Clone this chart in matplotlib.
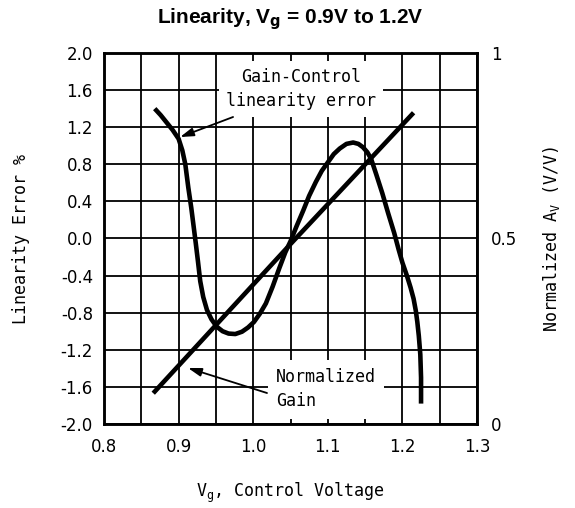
import matplotlib
matplotlib.use("Agg")
import matplotlib.pyplot as plt

# Data
vg_err = [0.868, 0.876, 0.884, 0.892, 0.900, 0.905, 0.909, 0.913, 0.917, 0.920,
          0.923, 0.926, 0.929, 0.933, 0.938, 0.944, 0.951, 0.959, 0.967, 0.976,
          0.985, 0.993, 1.001, 1.009, 1.017, 1.026, 1.035, 1.043, 1.050, 1.058,
          1.067, 1.075, 1.084, 1.092, 1.100, 1.108, 1.116, 1.125, 1.134, 1.141,
          1.147, 1.153, 1.158, 1.165, 1.173, 1.181, 1.189, 1.195, 1.200, 1.206,
          1.211, 1.215, 1.218, 1.220, 1.222, 1.224, 1.225, 1.225]
lin_err = [1.40, 1.33, 1.25, 1.17, 1.075, 0.95, 0.80, 0.55, 0.33, 0.14,
           -0.05, -0.25, -0.46, -0.63, -0.77, -0.87, -0.95, -1.00, -1.025, -1.03,
           -1.005, -0.96, -0.90, -0.81, -0.70, -0.52, -0.32, -0.15, -0.03, 0.13,
           0.30, 0.46, 0.61, 0.73, 0.82, 0.91, 0.97, 1.02, 1.035, 1.02,
           0.985, 0.93, 0.86, 0.69, 0.49, 0.27, 0.06, -0.12, -0.26, -0.40,
           -0.53, -0.65, -0.78, -0.90, -1.05, -1.25, -1.50, -1.78]

vg_gain = [0.866, 1.050, 1.215]
norm_gain = [0.083, 0.485, 0.839]

x_ticks = [0.8, 0.9, 1.0, 1.1, 1.2, 1.3]
x_tick_labels = ["0.8", "0.9", "1.0", "1.1", "1.2", "1.3"]
y_ticks = [-2.0, -1.6, -1.2, -0.8, -0.4, 0.0, 0.4, 0.8, 1.2, 1.6, 2.0]
y_tick_labels = ["-2.0", "-1.6", "-1.2", "-0.8", "-0.4", "0.0", "0.4", "0.8", "1.2", "1.6", "2.0"]
r_ticks = [0, 0.5, 1]
r_tick_labels = ["0", "0.5", "1"]

plt.rcParams['font.family'] = ['DejaVu Sans']
MONO = 'DejaVu Sans Mono'

fig = plt.figure(figsize=(5.75, 5.08), dpi=100)
ax = fig.add_axes([104/575, 1-424/508, (477-104)/575, (424-53)/508])
ax2 = ax.twinx()

ax.set_xlim(0.8, 1.3)
ax.set_ylim(-2.0, 2.0)
ax2.set_ylim(0, 1)

ax.set_xticks(x_ticks)
ax.set_xticklabels(x_tick_labels, fontsize=12)
ax.set_xticks([0.85, 0.95, 1.05, 1.15, 1.25], minor=True)
ax.set_yticks(y_ticks)
ax.set_yticklabels(y_tick_labels, fontsize=12)
ax.grid(True, which='both', color='black', linewidth=1.3)
ax.set_axisbelow(True)
ax.tick_params(which='both', length=0)
ax.tick_params(axis='y', pad=8)
ax.tick_params(axis='x', pad=10)

ax2.set_yticks(r_ticks)
ax2.set_yticklabels(r_tick_labels, fontsize=12)
ax2.tick_params(length=0, pad=10)

for a in (ax, ax2):
    for s in a.spines.values():
        s.set_linewidth(1.8)

ax.plot(vg_err, lin_err, color='black', linewidth=3.3, solid_capstyle='butt',
        solid_joinstyle='round', zorder=3)
ax2.plot(vg_gain, norm_gain, color='black', linewidth=3.3, solid_capstyle='butt',
         zorder=3)

ax.text(1.064, 1.612, "Gain-Control\nlinearity error", fontsize=12, family=MONO,
        ha='center', va='center', linespacing=1.45,
        bbox=dict(facecolor='white', edgecolor='none', pad=5), zorder=5)
ax.annotate("", xy=(0.902, 1.094), xytext=(0.973, 1.31),
            arrowprops=dict(arrowstyle='-|>,head_length=0.8,head_width=0.25',
                            color='black', lw=1.3, shrinkA=0, shrinkB=0),
            zorder=6)

ax.text(1.0306, -1.623, "Normalized\nGain", fontsize=12, family=MONO,
        ha='left', va='center', linespacing=1.45,
        bbox=dict(facecolor='white', edgecolor='none', pad=6), zorder=5)
ax.annotate("", xy=(0.9126, -1.396), xytext=(1.0185, -1.666),
            arrowprops=dict(arrowstyle='-|>,head_length=0.8,head_width=0.25',
                            color='black', lw=1.3, shrinkA=0, shrinkB=0),
            zorder=6)

fig.text(290/575, 1-19/508, r"Linearity, V$_\mathbf{g}$ = 0.9V to 1.2V",
         ha='center', va='center', fontsize=15, fontweight='bold',
         family='Liberation Sans')
yc = 0.5*(1-424/508) + 0.5*(1-53/508)
fig.text(21/575, yc, "Linearity Error %", family=MONO,
         rotation=90, ha='center', va='center', fontsize=12)
fig.text(552/575, yc, r"Normalized A$_\mathregular{V}$ (V/V)", family=MONO,
         rotation=90, ha='center', va='center', fontsize=12)
fig.text(290/575, 1-497/508, r"V$_\mathregular{g}$, Control Voltage", family=MONO,
         ha='center', va='baseline', fontsize=12)

fig.savefig("out.png", dpi=100)
